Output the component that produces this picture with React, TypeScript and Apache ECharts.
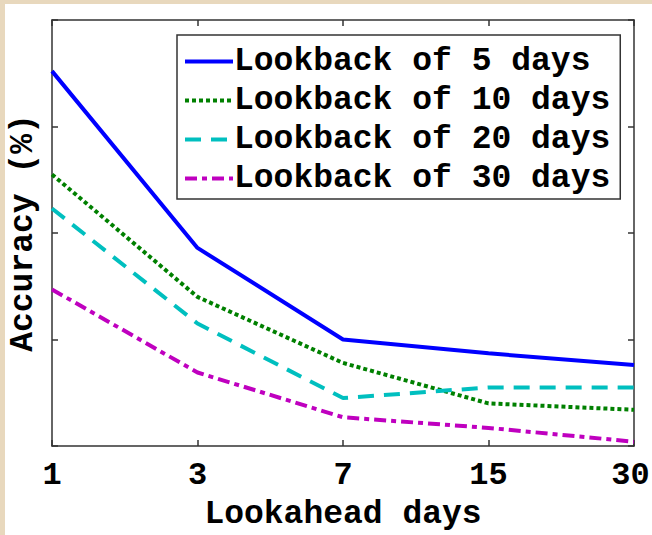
import React, { useEffect, useRef } from "react";
import * as echarts from "echarts";

const categories = ["1", "3", "7", "15", "30"];
const seriesNames = [
  "Lookback of 5 days",
  "Lookback of 10 days",
  "Lookback of 20 days",
  "Lookback of 30 days",
];
const lookback5 = [75.2, 58.6, 50.0, 48.7, 47.6];
const lookback10 = [65.5, 54.0, 47.8, 44.0, 43.4];
const lookback20 = [62.3, 51.5, 44.5, 45.5, 45.5];
const lookback30 = [54.7, 46.9, 42.7, 41.7, 40.4];

const FONT = "'Liberation Mono', 'Courier New', monospace";

export default function App() {
  const ref = useRef<HTMLDivElement>(null);
  useEffect(() => {
    document.body.style.margin = "0";
    const chart = echarts.init(ref.current!, null, { renderer: "svg" });
    const axisLine = { lineStyle: { color: "#333", width: 1.5 } };
    const mk = (name: string, data: number[], color: string, type: any) => ({
      name,
      type: "line",
      data,
      symbol: "none",
      xAxisIndex: 0,
      yAxisIndex: 0,
      lineStyle: { color, width: 4, type, cap: "butt" },
      itemStyle: { color },
    });
    const lastCat = categories[categories.length - 1];
    chart.setOption({
      animation: false,
      backgroundColor: "#ffffff",
      textStyle: { fontFamily: FONT },
      grid: {
        left: 47,
        top: 16,
        right: 18,
        bottom: 89,
        containLabel: false,
        outerBoundsMode: "none",
      },
      legend: {
        orient: "vertical",
        left: 172,
        top: 31,
        itemWidth: 48,
        itemHeight: 6,
        itemGap: 6,
        padding: [10, 10, 4, 6],
        borderColor: "#333",
        borderWidth: 1.5,
        backgroundColor: "#fff",
        itemStyle: { opacity: 0 },
        lineStyle: { width: 4 },
        data: seriesNames,
        textStyle: {
          fontFamily: FONT,
          fontWeight: "bold",
          fontSize: 33,
          color: "#000",
          padding: [0, 0, 0, -4],
        },
      },
      xAxis: [
        {
          type: "category",
          data: categories,
          boundaryGap: false,
          position: "bottom",
          axisLine,
          axisTick: { inside: true, length: 6, lineStyle: { color: "#333", width: 1.5 } },
          axisLabel: {
            interval: 0,
            hideOverlap: false,
            fontFamily: FONT,
            fontWeight: "bold",
            fontSize: 32,
            color: "#000",
            margin: 13,
            formatter: (v: string) => (v === lastCat ? `{last|${v}}` : v),
            rich: {
              last: {
                fontFamily: FONT,
                fontWeight: "bold",
                fontSize: 32,
                color: "#000",
                padding: [0, 7, 0, 0],
              },
            },
          },
          name: "Lookahead days",
          nameLocation: "middle",
          nameGap: 52,
          nameTextStyle: { fontFamily: FONT, fontWeight: "bold", fontSize: 33, color: "#000" },
          splitLine: { show: false },
        },
        {
          type: "category",
          data: categories,
          boundaryGap: false,
          position: "top",
          axisLine,
          axisTick: { inside: true, interval: 0, length: 6, lineStyle: { color: "#333", width: 1.5 } },
          axisLabel: { show: false, interval: 0 },
          splitLine: { show: false },
        },
      ],
      yAxis: [
        {
          type: "value",
          min: 40,
          max: 80,
          interval: 10,
          position: "left",
          axisLine: { show: true, ...axisLine },
          axisTick: { show: true, inside: true, length: 6, lineStyle: { color: "#333", width: 1.5 } },
          axisLabel: { show: false },
          splitLine: { show: false },
          name: "Accuracy (%)",
          nameLocation: "middle",
          nameGap: 16,
          nameRotate: 90,
          nameTextStyle: {
            fontFamily: FONT,
            fontWeight: "bold",
            fontSize: 33,
            lineHeight: 26,
            color: "#000",
          },
        },
        {
          type: "value",
          min: 40,
          max: 80,
          interval: 10,
          position: "right",
          axisLine: { show: true, ...axisLine },
          axisTick: { show: true, inside: true, length: 6, lineStyle: { color: "#333", width: 1.5 } },
          axisLabel: { show: false },
          splitLine: { show: false },
        },
      ],
      series: [
        mk(seriesNames[0], lookback5, "#0000ff", "solid"),
        mk(seriesNames[1], lookback10, "#008000", [4, 3]),
        mk(seriesNames[2], lookback20, "#00bfbf", [16, 10]),
        mk(seriesNames[3], lookback30, "#bf00bf", [12, 5, 5, 5]),
      ],
    });
    return () => chart.dispose();
  }, []);
  return (
    <div style={{ position: "absolute", left: 0, top: 0, width: 652, height: 535, background: "#e8d8bd" }}>
      <div
        ref={ref}
        style={{ position: "absolute", left: 5, top: 4, width: 647, height: 531, background: "#fff" }}
      />
    </div>
  );
}
